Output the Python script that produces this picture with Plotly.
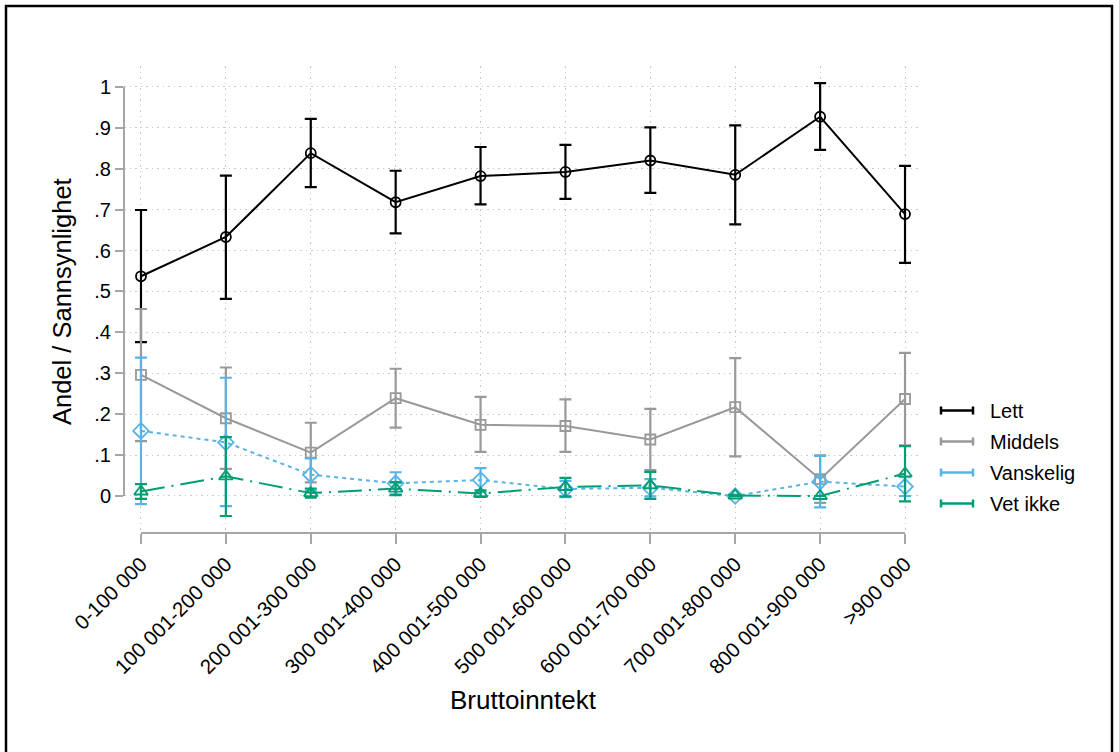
import plotly.graph_objects as go

# Income brackets (x axis)
categories = ["0-100 000", "100 001-200 000", "200 001-300 000", "300 001-400 000",
              "400 001-500 000", "500 001-600 000", "600 001-700 000",
              "700 001-800 000", "800 001-900 000", ">900 000"]

# Predicted shares with 95% confidence limits
lett = [0.537, 0.633, 0.838, 0.718, 0.782, 0.792, 0.820, 0.785, 0.927, 0.689]
lett_lo = [0.376, 0.482, 0.755, 0.642, 0.713, 0.726, 0.741, 0.664, 0.846, 0.570]
lett_hi = [0.699, 0.783, 0.922, 0.795, 0.853, 0.858, 0.901, 0.906, 1.009, 0.807]

middels = [0.296, 0.190, 0.106, 0.239, 0.174, 0.171, 0.138, 0.217, 0.041, 0.237]
middels_lo = [0.134, 0.066, 0.033, 0.167, 0.108, 0.108, 0.063, 0.097, -0.017, 0.124]
middels_hi = [0.457, 0.314, 0.179, 0.311, 0.242, 0.236, 0.213, 0.337, 0.099, 0.350]

vanskelig = [0.159, 0.131, 0.052, 0.031, 0.039, 0.017, 0.020, 0.000, 0.035, 0.023]
vanskelig_lo = [-0.020, -0.025, 0.012, 0.004, 0.010, -0.003, -0.001, 0.000, -0.028, 0.000]
vanskelig_hi = [0.338, 0.289, 0.092, 0.058, 0.068, 0.037, 0.041, 0.000, 0.098, 0.046]

vet_ikke = [0.011, 0.048, 0.007, 0.018, 0.006, 0.022, 0.026, 0.001, 0.000, 0.055]
vet_ikke_lo = [-0.007, -0.049, -0.004, 0.002, -0.002, -0.001, -0.007, -0.001, 0.000, -0.013]
vet_ikke_hi = [0.029, 0.144, 0.018, 0.034, 0.014, 0.044, 0.059, 0.003, 0.000, 0.122]

yticks = [0, 0.1, 0.2, 0.3, 0.4, 0.5, 0.6, 0.7, 0.8, 0.9, 1]
ytick_text = ["0", ".1", ".2", ".3", ".4", ".5", ".6", ".7", ".8", ".9", "1"]

# name, values, lower, upper, colour, marker, marker size, line dash
series = [
    ("Lett", lett, lett_lo, lett_hi, "#000000", "circle-open", 10, "solid"),
    ("Middels", middels, middels_lo, middels_hi, "#999999", "square-open", 10, "solid"),
    ("Vanskelig", vanskelig, vanskelig_lo, vanskelig_hi, "#56B4E9", "diamond-open", 12, "4px,4px"),
    ("Vet ikke", vet_ikke, vet_ikke_lo, vet_ikke_hi, "#009E73", "triangle-up-open", 12, "24px,7px,2px,7px"),
]

FONT = "Liberation Sans, Arial, sans-serif"
W, H = 1119, 752
L, R, T, B = 124, 197, 66, 219
PW, PH = W - L - R, H - T - B


def px_x(px):
    return (px - L) / PW


def px_y(py):
    return (H - B - py) / PH


xs = list(range(len(categories)))
fig = go.Figure()

for name, mean, lo, hi, color, symbol, msize, dash in series:
    fig.add_trace(go.Scatter(
        x=xs, y=mean, name=name, mode="lines+markers",
        line=dict(color=color, width=2, dash=dash),
        marker=dict(symbol=symbol, size=msize, color=color, line=dict(color=color, width=1.8)),
        error_y=dict(type="data", symmetric=False,
                     array=[h - m for h, m in zip(hi, mean)],
                     arrayminus=[m - l for m, l in zip(mean, lo)],
                     color=color, thickness=2.2, width=6),
        showlegend=False,
    ))

shapes = []
# Axis lines spanning only the tick range
shapes.append(dict(type="line", xref="paper", yref="y", x0=0, x1=0, y0=yticks[0], y1=yticks[-1],
                   line=dict(color="#a6a6a6", width=2)))
shapes.append(dict(type="line", xref="x", yref="paper", x0=xs[0], x1=xs[-1], y0=0, y1=0,
                   line=dict(color="#a6a6a6", width=2)))
# Outer frame
shapes.append(dict(type="rect", xref="paper", yref="paper",
                   x0=px_x(6), x1=px_x(1112), y0=px_y(770), y1=px_y(6),
                   line=dict(color="#000000", width=2.5), fillcolor="rgba(0,0,0,0)", layer="above"))

annotations = []
# Legend with capped line keys
for i, (name, mean, lo, hi, color, symbol, msize, dash) in enumerate(series):
    yc = 410.5 + i * 31
    shapes.append(dict(type="line", xref="paper", yref="paper", x0=px_x(941), x1=px_x(973),
                       y0=px_y(yc), y1=px_y(yc), line=dict(color=color, width=2.5)))
    for xe in (941, 973):
        shapes.append(dict(type="line", xref="paper", yref="paper", x0=px_x(xe), x1=px_x(xe),
                           y0=px_y(yc - 4), y1=px_y(yc + 4), line=dict(color=color, width=2.5)))
    annotations.append(dict(text=name, xref="paper", yref="paper", x=px_x(988), y=px_y(yc),
                            xanchor="left", yanchor="middle", showarrow=False,
                            font=dict(family=FONT, size=20, color="#000000")))

annotations.append(dict(text="Andel / Sannsynlighet", xref="paper", yref="paper",
                        x=px_x(62), y=px_y(302), textangle=-90, showarrow=False,
                        xanchor="center", yanchor="middle",
                        font=dict(family=FONT, size=25.5, color="#000000")))
annotations.append(dict(text="Bruttoinntekt", xref="paper", yref="paper",
                        x=0.5, y=px_y(700), showarrow=False,
                        xanchor="center", yanchor="middle",
                        font=dict(family=FONT, size=26, color="#000000")))

fig.update_layout(
    width=W, height=H,
    margin=dict(l=L, r=R, t=T, b=B),
    paper_bgcolor="white", plot_bgcolor="white",
    shapes=shapes, annotations=annotations,
    showlegend=False,
    font=dict(family=FONT, size=20, color="#000000"),
)
fig.update_xaxes(
    range=[-0.2, len(categories) - 1 + 0.2],
    tickvals=xs, ticktext=categories, tickangle=-45,
    ticks="outside", ticklen=10, tickwidth=2, tickcolor="#a6a6a6",
    showline=False, zeroline=False,
    showgrid=True, gridcolor="#c8c8c8", griddash="1.5px,4px", gridwidth=1.2,
    tickfont=dict(family=FONT, size=20.5, color="#000000"),
)
fig.update_yaxes(
    range=[-0.0905, 1.051],
    tickvals=yticks, ticktext=ytick_text,
    ticks="outside", ticklen=8, tickwidth=2, tickcolor="#a6a6a6",
    showline=False, zeroline=False,
    showgrid=True, gridcolor="#c8c8c8", griddash="1.5px,4px", gridwidth=1.2,
    tickfont=dict(family=FONT, size=20, color="#000000"),
)

fig.write_html("out.html")
